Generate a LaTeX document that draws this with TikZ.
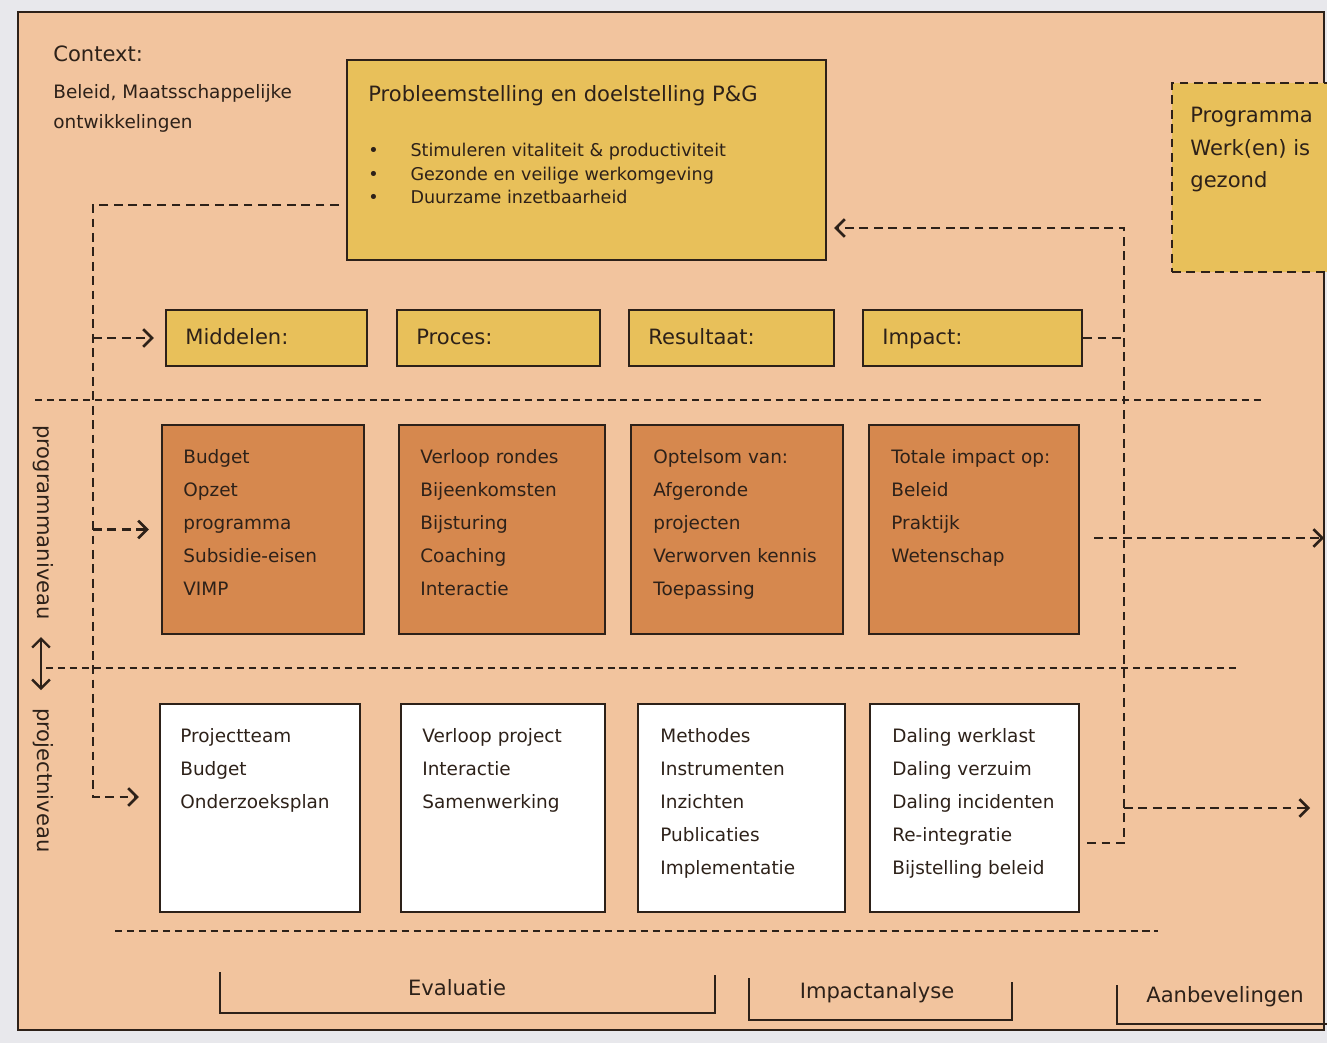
\documentclass[tikz,border=0pt]{standalone}
\usepackage{fontspec}
\setmainfont{DejaVu Sans}
\usetikzlibrary{arrows.meta,fit,calc}
\definecolor{peach}{RGB}{242,196,158}
\definecolor{ybox}{RGB}{232,192,90}
\definecolor{obox}{RGB}{214,136,78}
\definecolor{ink}{RGB}{45,33,25}
\definecolor{paper}{RGB}{232,232,236}
\begin{document}
\begin{tikzpicture}[x=0.02cm,y=-0.02cm,
  box/.style={draw=ink,line width=1.4pt,inner sep=0pt},
  yb/.style={box,fill=ybox},
  ob/.style={box,fill=obox},
  wb/.style={box,fill=white},
  lbl/.style={anchor=base west,inner sep=0pt,font=\fontsize{12}{14}\selectfont,text=ink},
  body/.style={anchor=base west,inner sep=0pt,align=left,font=\fontsize{10.5}{18.7}\selectfont,text=ink},
  conn/.style={draw=ink,line width=1.5pt,dash pattern=on 5pt off 3.2pt},
  arr/.style={-{Straight Barb[length=5pt,width=10pt,line width=1.5pt]}},
  sep/.style={draw=ink,line width=0.9pt,dash pattern=on 4pt off 2.8pt},
  brk/.style={draw=ink,line width=1.1pt},
]
\useasboundingbox (0,0) rectangle (1327,1043);
\fill[paper] (0,0) rectangle (1327,1043);
\draw[ink,line width=1pt,fill=peach] (18,12) rectangle (1324,1030);

% context (base of a multi-line node = baseline of its last line)
\node[lbl] (ctx) at (53,62) {Context:};
\node[body,font=\fontsize{10.5}{17.6}\selectfont] (ctxt) at (53,129) {Beleid, Maatsschappelijke\\ontwikkelingen};

% top box
\node[yb,fit={(347,60)(826,260)}] (prob) {};
\node[lbl] (probt) at (368,102) {Probleemstelling en doelstelling P\&G};
\node[body,font=\fontsize{10}{13.6}\selectfont] (probb) at (368,204)
  {\makebox[24pt][l]{•}Stimuleren vitaliteit \& productiviteit\\
   \makebox[24pt][l]{•}Gezonde en veilige werkomgeving\\
   \makebox[24pt][l]{•}Duurzame inzetbaarheid};

% programma box
\node[box,fill=ybox,dash pattern=on 5pt off 3.2pt,fit={(1172,83)(1345,272)}] (prog) {};
\node[lbl,align=left,font=\fontsize{12}{18.7}\selectfont] (progt) at (1190,188) {Programma\\Werk(en) is\\gezond};

% header boxes
\node[yb,fit={(166,310)(367,366)}] (mid) {};
\node[yb,fit={(397,310)(600,366)}] (proc) {};
\node[yb,fit={(629,310)(834,366)}] (res) {};
\node[yb,fit={(863,310)(1082,366)}] (imp) {};
\node[lbl] (midt) at (185,345) {Middelen:};
\node[lbl] (proct) at (416,345) {Proces:};
\node[lbl] (rest) at (648,345) {Resultaat:};
\node[lbl] (impt) at (882,345) {Impact:};

% orange boxes
\node[ob,fit={(162,425)(364,634)}] (b1) {};
\node[ob,fit={(399,425)(605,634)}] (b2) {};
\node[ob,fit={(631,425)(843,634)}] (b3) {};
\node[ob,fit={(869,425)(1079,634)}] (b4) {};
\node[body] (b1t) at (183,595) {Budget\\Opzet\\programma\\Subsidie-eisen\\VIMP};
\node[body] (b2t) at (420,595) {Verloop rondes\\Bijeenkomsten\\Bijsturing\\Coaching\\Interactie};
\node[body] (b3t) at (653,595) {Optelsom van:\\Afgeronde\\projecten\\Verworven kennis\\Toepassing};
\node[body] (b4t) at (891,562) {Totale impact op:\\Beleid\\Praktijk\\Wetenschap};

% white boxes
\node[wb,fit={(160,704)(360,912)}] (w1) {};
\node[wb,fit={(401,704)(605,912)}] (w2) {};
\node[wb,fit={(638,704)(845,912)}] (w3) {};
\node[wb,fit={(870,704)(1079,912)}] (w4) {};
\node[body] (w1t) at (180,808) {Projectteam\\Budget\\Onderzoeksplan};
\node[body] (w2t) at (422,808) {Verloop project\\Interactie\\Samenwerking};
\node[body] (w3t) at (660,874) {Methodes\\Instrumenten\\Inzichten\\Publicaties\\Implementatie};
\node[body] (w4t) at (892,874) {Daling werklast\\Daling verzuim\\Daling incidenten\\Re-integratie\\Bijstelling beleid};

% separators
\draw[sep] (35,400) -- (1262,400);
\draw[sep] (46,668) -- (1240,668);
\draw[sep] (115,931) -- (1158,931);

% vertical labels
\node[rotate=-90,anchor=west,inner sep=0pt,font=\fontsize{12}{14}\selectfont,text=ink] (pn) at (43,425) {programmaniveau};
\node[rotate=-90,anchor=west,inner sep=0pt,font=\fontsize{12}{14}\selectfont,text=ink] (jn) at (43,708) {projectniveau};
\coordinate (da) at (41,637);
\coordinate (db) at (41,690);
\draw[ink,line width=1.4pt,{Straight Barb[length=5pt,width=10pt,line width=1.4pt]}-{Straight Barb[length=5pt,width=10pt,line width=1.4pt]}] (da) -- (db);

% left connectors
\coordinate (LT) at (93,205);
\coordinate (LB) at (93,797);
\draw[conn,arr] ($(prob.west |- LT)+(-7,0)$) -- (LT) -- (LB) -- ($(w1.west |- LB)+(-20,0)$);
\draw[conn,arr] (LT |- mid.west) -- ($(mid.west)+(-11,0)$);
\draw[conn,arr] (LT |- b1.west) -- ($(b1.west)+(-12,0)$);

% right connectors
\coordinate (RT) at (1124,228);
\coordinate (RB) at (1124,843);
\draw[conn,arr] ($(w4.east |- RB)+(7,0)$) -- (RB) -- (RT) -- ($(prob.east |- RT)+(7,0)$);
\draw[conn] (imp.east) -- (RT |- imp.east);
\coordinate (E1) at (1324,538);
\draw[conn,arr] ($(b4.east |- E1)+(14,0)$) -- (E1);
\coordinate (E2) at (1310,808);
\draw[conn,arr] (RT |- E2) -- (E2);

% bottom brackets
\draw[brk] (220,972) -- (220,1013) -- (715,1013) -- (715,975);
\node[inner sep=0pt,font=\fontsize{12}{14}\selectfont,text=ink] (ev) at (457,988) {Evaluatie};
\draw[brk] (749,978) -- (749,1020) -- (1012,1020) -- (1012,982);
\node[inner sep=0pt,font=\fontsize{12}{14}\selectfont,text=ink] (ia) at (877,993) {Impactanalyse};
\draw[brk] (1117,985) -- (1117,1024) -- (1330,1024);
\node[inner sep=0pt,font=\fontsize{12}{14}\selectfont,text=ink] (ab) at (1225,997) {Aanbevelingen};
\end{tikzpicture}
\end{document}
